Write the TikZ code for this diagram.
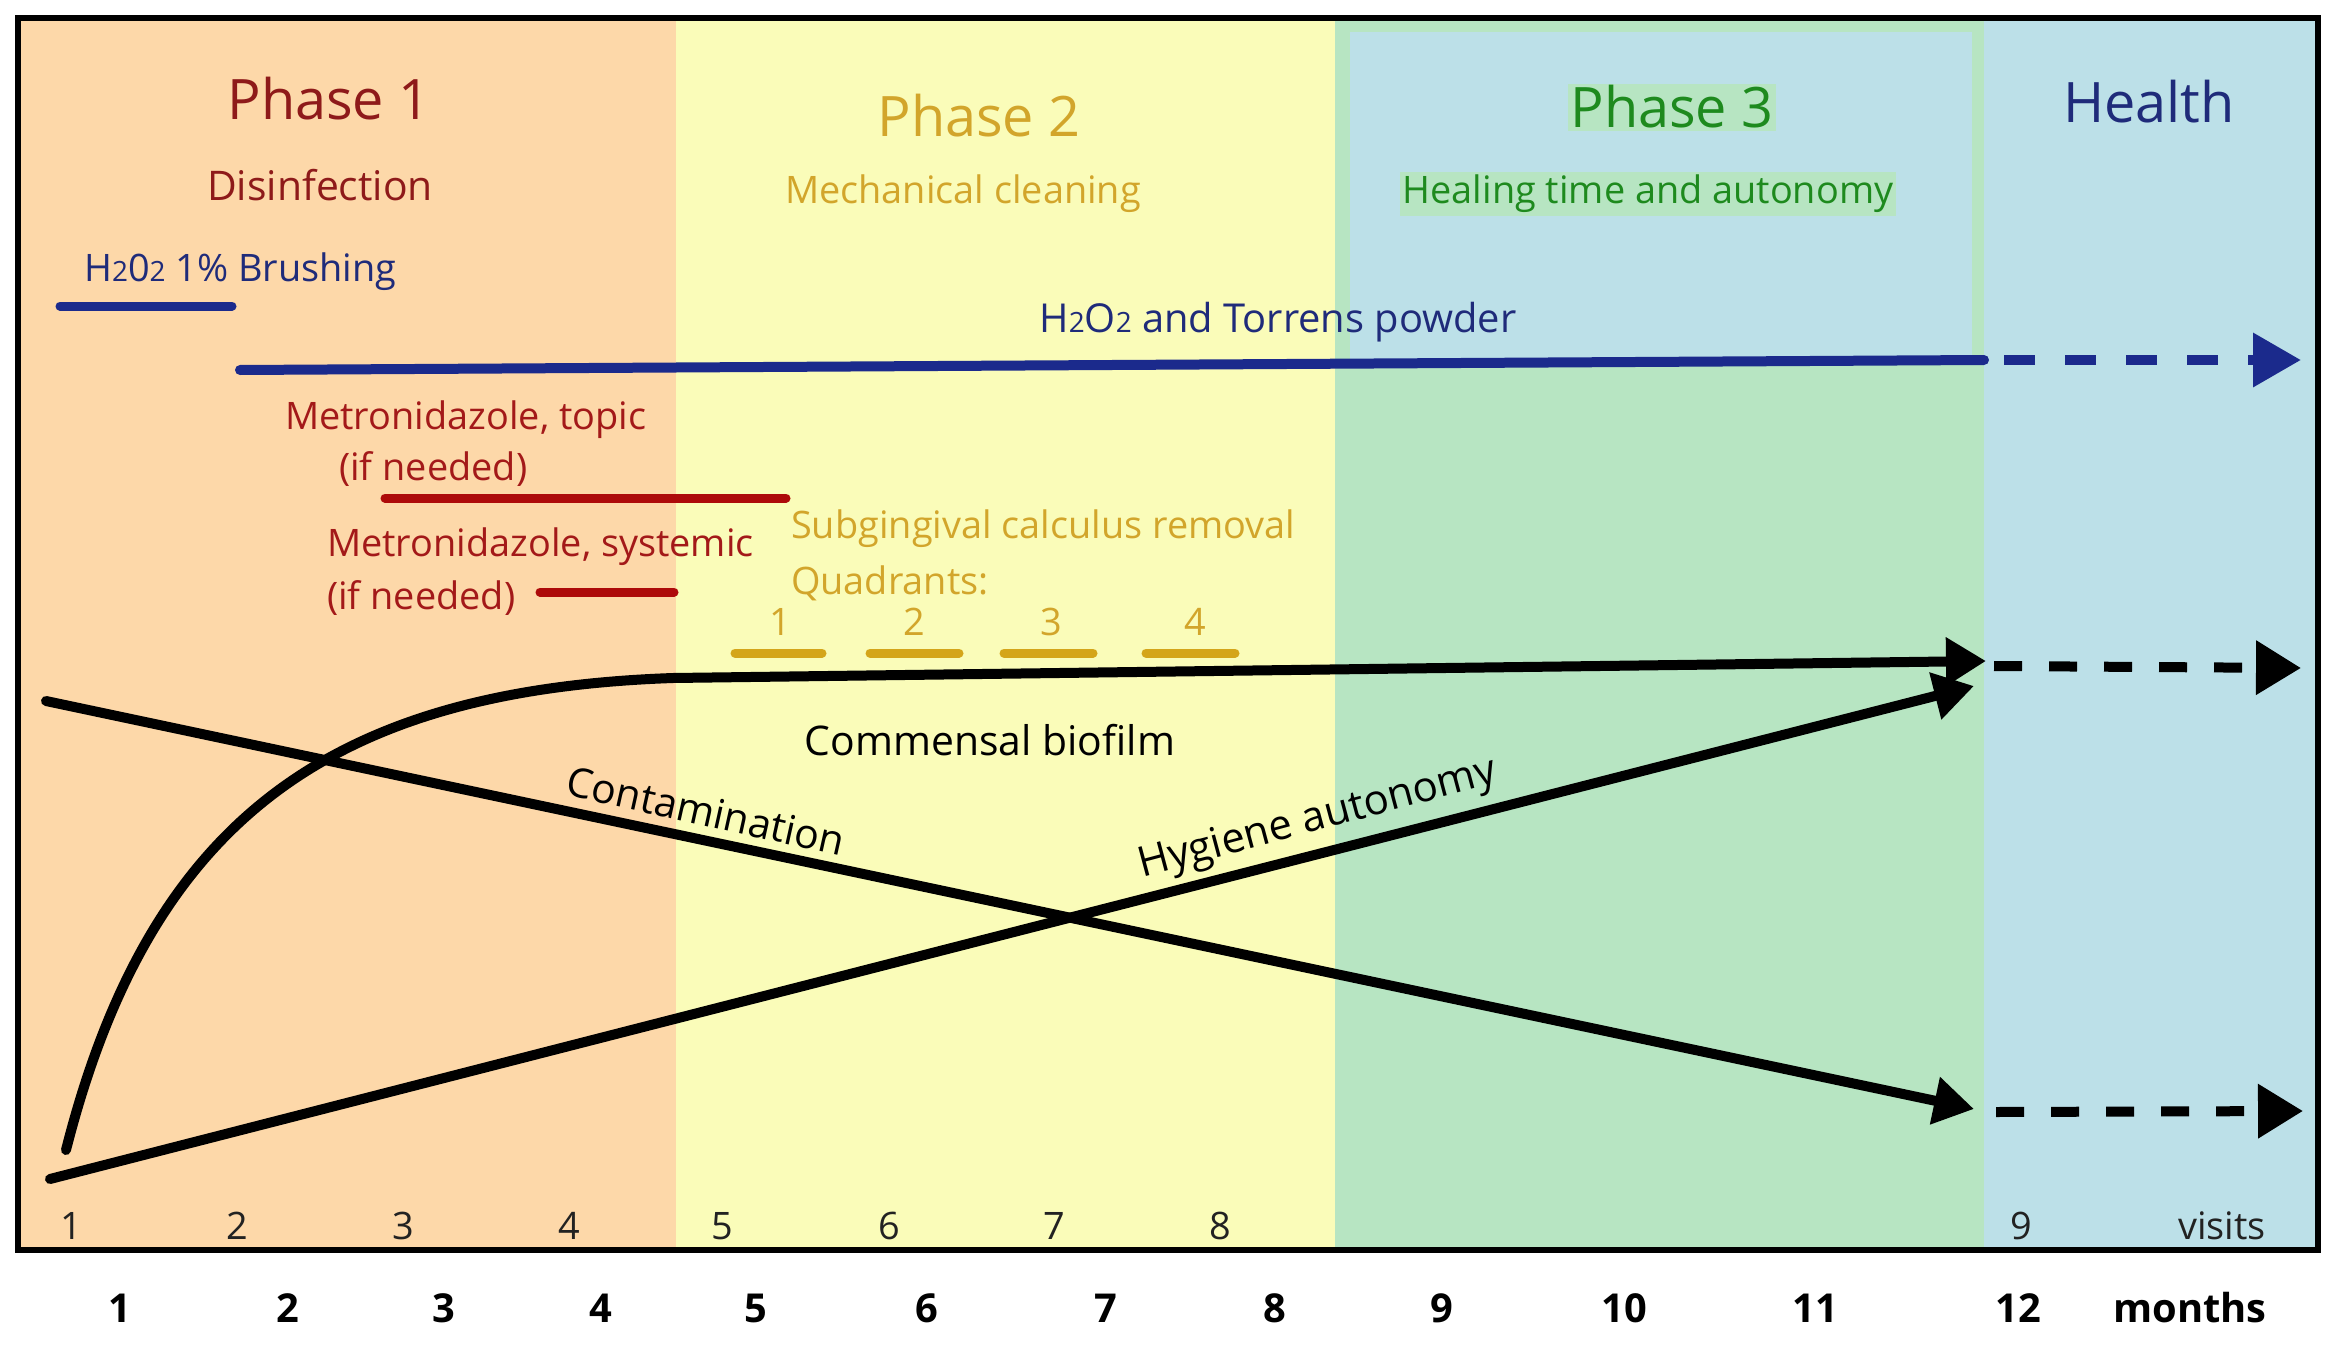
\documentclass[tikz,border=0pt]{standalone}
\usepackage{fontspec}
\setmainfont{Open Sans}
\usetikzlibrary{arrows.meta}
\definecolor{peach}{HTML}{FDD8A9}
\definecolor{pyellow}{HTML}{FAFCB9}
\definecolor{pgreen}{HTML}{B7E5C2}
\definecolor{pblue}{HTML}{BCE0E8}
\definecolor{navyline}{HTML}{1B2A8C}
\definecolor{navytext}{HTML}{1F2B7A}
\definecolor{dred}{HTML}{8E1A1A}
\definecolor{rtext}{HTML}{A31919}
\definecolor{rline}{HTML}{AD0A0A}
\definecolor{goldtext}{HTML}{D2A52B}
\definecolor{goldline}{HTML}{D4A51A}
\definecolor{gtext}{HTML}{1E8A1E}
\definecolor{numgray}{HTML}{222222}
\newcommand\smd[1]{{\fontsize{28}{28}\selectfont #1}}
\begin{document}
\begin{tikzpicture}[x=1bp,y=-1bp,
  ttl/.style={font=\fontsize{56}{62}\selectfont, anchor=base, inner sep=0pt},
  txt/.style={font=\fontsize{38}{44}\selectfont, inner sep=0pt},
  num/.style={font=\fontsize{38}{44}\selectfont, text=numgray, anchor=base, inner sep=0pt},
  mon/.style={font=\fontsize{40}{44}\selectfont\bfseries, anchor=base, inner sep=0pt},
  bar/.style={line width=9bp, line cap=round},
  solidarrow/.style={line width=10bp, line cap=round, -{Triangle[length=40bp,width=46bp]}},
  dasharrow/.style={line width=10bp, dash pattern=on 28bp off 27bp, -{Triangle[length=45bp,width=52bp]}},
  bluedash/.style={line width=10bp, color=navyline, dash pattern=on 31bp off 30bp, -{Triangle[length=48bp,width=52bp]}}
]
\useasboundingbox (0,0) rectangle (2337,1360);
\fill[white] (0,0) rectangle (2337,1360);
% columns
\fill[peach] (18,18) rectangle (676,1250);
\fill[pyellow] (676,18) rectangle (1335,1250);
\fill[pgreen] (1335,18) rectangle (1984,1250);
\fill[pblue] (1350,32) rectangle (1972,362);
\fill[pblue] (1984,18) rectangle (2318,1250);
\draw[line width=6bp] (18,18) rectangle (2318,1250);

% titles
\node[ttl, text=dred] (p1) at (329,120) {Phase 1};
\node[txt, font=\fontsize{41}{46}\selectfont, anchor=base, text=dred] (p1s) at (320,201) {Disinfection};
\node[ttl, text=goldtext] (p2) at (979,137) {Phase 2};
\node[txt, anchor=base, text=goldtext] (p2s) at (963,204) {Mechanical cleaning};
\node[ttl, text=gtext, fill=pgreen, inner sep=2bp] (p3) at (1672,128) {Phase 3};
\node[txt, anchor=base, text=gtext, fill=pgreen, inner sep=3bp] (p3s) at (1648,204) {Healing time and autonomy};
\node[ttl, text=navytext] (hl) at (2149,123) {Health};

% H2O2 treatments
\node[txt, anchor=base west, text=navytext] (brush) at (84,282) {H\smd{2}0\smd{2} 1\% Brushing};
\coordinate (b1s) at (60,306); \coordinate (b1e) at (232,306);
\draw[bar, navyline] (b1s) -- (b1e);
\node[txt, font=\fontsize{40}{46}\selectfont, anchor=base, text=navytext] (torr) at (1278,332) {H\smd{2}O\smd{2} and Torrens powder};
\coordinate (b2s) at (240,370); \coordinate (b2e) at (1984,360);
\coordinate (b3s) at (2004,360); \coordinate (b3e) at (2301,360);
\draw[line width=10bp, navyline, line cap=round] (b2s) -- (b2e);
\draw[bluedash] (b3s) -- (b3e);

% Metronidazole
\node[txt, anchor=base west, text=rtext] (mt1) at (285,429) {Metronidazole, topic};
\node[txt, anchor=base west, text=rtext] (mt1b) at (339,480) {(if needed)};
\coordinate (r1s) at (385,498); \coordinate (r1e) at (786,498);
\draw[bar, rline] (r1s) -- (r1e);
\node[txt, anchor=base west, text=rtext] (mt2) at (327,556) {Metronidazole, systemic};
\node[txt, anchor=base west, text=rtext] (mt2b) at (327,609) {(if needed)};
\coordinate (r2s) at (540,592); \coordinate (r2e) at (674,592);
\draw[bar, rline] (r2s) -- (r2e);

% Subgingival
\node[txt, anchor=base west, text=goldtext] (sg) at (791,538) {Subgingival calculus removal};
\node[txt, anchor=base west, text=goldtext] (qd) at (791,594) {Quadrants:};
\node[num, text=goldtext] (q1) at (780,635) {1};
\node[num, text=goldtext] (q2) at (914,635) {2};
\node[num, text=goldtext] (q3) at (1051,635) {3};
\node[num, text=goldtext] (q4) at (1195,635) {4};
\coordinate (g1s) at (735,653); \coordinate (g1e) at (822,653);
\coordinate (g2s) at (870,653); \coordinate (g2e) at (959,653);
\coordinate (g3s) at (1004,653); \coordinate (g3e) at (1093,653);
\coordinate (g4s) at (1146,653); \coordinate (g4e) at (1235,653);
\draw[bar, goldline] (g1s) -- (g1e);
\draw[bar, goldline] (g2s) -- (g2e);
\draw[bar, goldline] (g3s) -- (g3e);
\draw[bar, goldline] (g4s) -- (g4e);

% curves
\coordinate (cs) at (46,701); \coordinate (ce) at (1974,1109);
\coordinate (hs) at (50,1179); \coordinate (he) at (1974,686);
\coordinate (fs) at (66,1150); \coordinate (fm) at (673,678); \coordinate (fe) at (1986,661);
\draw[solidarrow] (cs) -- (ce);
\draw[solidarrow] (hs) -- (he);
\draw[solidarrow] (fs) .. controls (150,820) and (330,690) .. (fm) -- (fe);
\coordinate (d1s) at (1994,666); \coordinate (d1e) at (2301,668);
\coordinate (d2s) at (1996,1112); \coordinate (d2e) at (2303,1111);
\draw[dasharrow] (d1s) -- (d1e);
\draw[dasharrow] (d2s) -- (d2e);

\node[font=\fontsize{41}{46}\selectfont, anchor=base, inner sep=0pt] (cb) at (990,755) {Commensal biofilm};
\node[txt, font=\fontsize{41}{46}\selectfont, rotate=-12.5] (cont) at (706,811) {Contamination};
\node[txt, font=\fontsize{42}{46}\selectfont, rotate=15] (hyg) at (1318,820) {Hygiene autonomy};

% visits
\node[num] (v1) at (71,1239) {1};
\node[num] (v2) at (237,1239) {2};
\node[num] (v3) at (403,1239) {3};
\node[num] (v4) at (569,1239) {4};
\node[num] (v5) at (722,1239) {5};
\node[num] (v6) at (889,1239) {6};
\node[num] (v7) at (1054,1239) {7};
\node[num] (v8) at (1220,1239) {8};
\node[num] (v9) at (2021,1239) {9};
\node[num] (vis) at (2222,1239) {visits};

% months
\node[mon] (m1) at (120,1322) {1};
\node[mon] (m2) at (288,1322) {2};
\node[mon] (m3) at (444,1322) {3};
\node[mon] (m4) at (601,1322) {4};
\node[mon] (m5) at (756,1322) {5};
\node[mon] (m6) at (927,1322) {6};
\node[mon] (m7) at (1106,1322) {7};
\node[mon] (m8) at (1275,1322) {8};
\node[mon] (m9) at (1442,1322) {9};
\node[mon] (m10) at (1624,1322) {10};
\node[mon] (m11) at (1815,1322) {11};
\node[mon] (m12) at (2018,1322) {12};
\node[mon] (mon) at (2190,1322) {months};
\end{tikzpicture}
\end{document}
